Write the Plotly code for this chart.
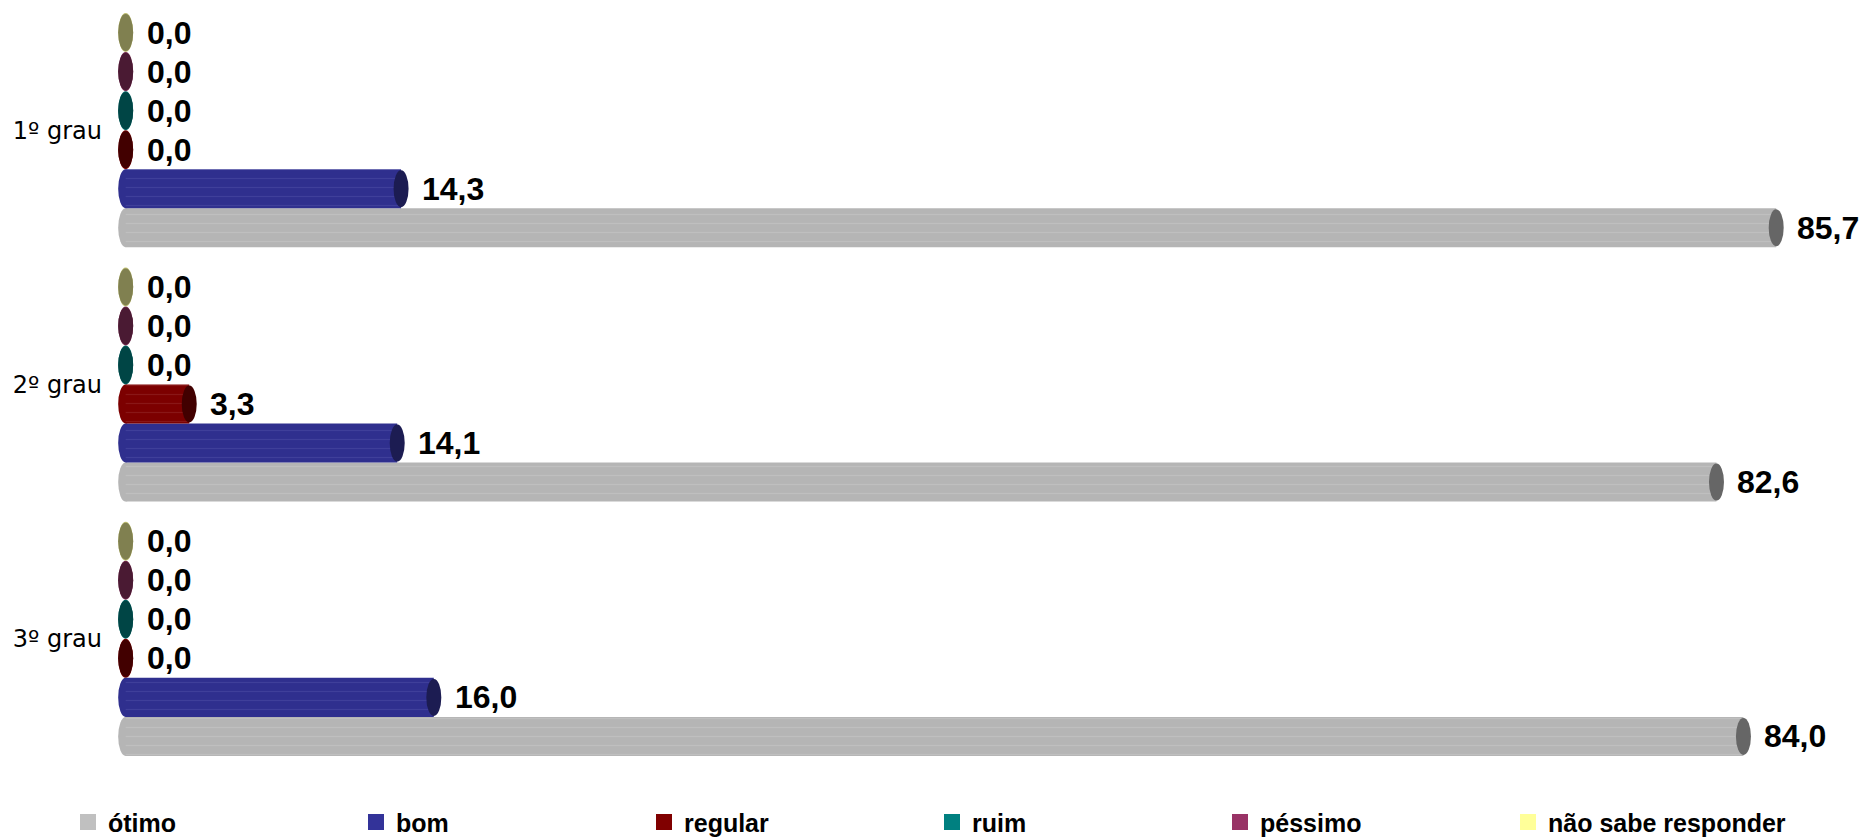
import plotly.graph_objects as go

categories = ["1º grau", "2º grau", "3º grau"]
series_names = ["ótimo", "bom", "regular", "ruim", "péssimo", "não sabe responder"]
otimo = [85.7, 82.6, 84.0]
bom = [14.3, 14.1, 16.0]
regular = [0.0, 3.3, 0.0]
ruim = [0.0, 0.0, 0.0]
pessimo = [0.0, 0.0, 0.0]
nao_sabe = [0.0, 0.0, 0.0]
values = [otimo, bom, regular, ruim, pessimo, nao_sabe]

legend_colors = ["#C0C0C0", "#333399", "#800000", "#008080", "#993366", "#FFFF99"]
body_colors = ["#B5B5B5", "#2F2F8E", "#7C0000", "#006262", "#74284E", "#BFBF73"]
cap_colors = ["#666666", "#1C1C52", "#420000", "#004545", "#4A1A33", "#808050"]
stripe_colors = ["#D0D0D0", "#5A5AB0", "#A04040", "#3A8A8A", "#A05A7A", "#E0E0A0"]

bar_w = 0.1535
n = len(series_names)

fig = go.Figure()
shapes = []
annotations = []

for i, (name, vals) in enumerate(zip(series_names, values)):
    ypos = [k + (n / 2 - 0.5 - i) * bar_w for k in range(len(categories))]
    fig.add_trace(go.Bar(
        x=vals, y=ypos, orientation="h", width=bar_w, name=name,
        marker=dict(color=body_colors[i], line=dict(width=0),
                    pattern=dict(shape="-", fgcolor=stripe_colors[i], fgopacity=0.35,
                                 size=9, solidity=0.12)),
        showlegend=False, hoverinfo="x+name",
    ))
    fig.add_trace(go.Scatter(
        x=[None], y=[None], mode="markers", name=name,
        marker=dict(symbol="square", size=16, color=legend_colors[i]),
        showlegend=True,
    ))
    for v, y in zip(vals, ypos):
        # rounded start of the cylinder
        shapes.append(dict(type="circle", xref="x", yref="y", xsizemode="pixel", xanchor=0,
                           x0=-7.5, x1=7.5, y0=y - bar_w / 2, y1=y + bar_w / 2,
                           fillcolor=body_colors[i], line=dict(width=0), layer="below"))
        # end cap
        shapes.append(dict(type="circle", xref="x", yref="y", xsizemode="pixel", xanchor=v,
                           x0=-7.5, x1=7.5, y0=y - bar_w / 2 + 0.004, y1=y + bar_w / 2 - 0.004,
                           fillcolor=cap_colors[i], line=dict(width=0), layer="above"))
        annotations.append(dict(x=v, y=y, xref="x", yref="y", text=f"{v:.1f}".replace(".", ","),
                                showarrow=False, xanchor="left", yanchor="middle", xshift=19,
                                font=dict(family="Liberation Sans, Arial, sans-serif", size=32,
                                          color="#000000", weight="bold")))

fig.update_layout(
    width=1871, height=840,
    margin=dict(l=117, r=12, t=3, b=74, autoexpand=False),
    plot_bgcolor="#FFFFFF", paper_bgcolor="#FFFFFF",
    barmode="overlay",
    shapes=shapes, annotations=annotations,
    xaxis=dict(range=[-0.45, 90], showgrid=False, zeroline=False, showticklabels=False,
               showline=False, ticks=""),
    yaxis=dict(range=[2.5, -0.5], tickvals=list(range(len(categories))), ticktext=categories,
               showgrid=False, zeroline=False, showline=False, ticks="",
               ticklabelstandoff=14, automargin=False,
               tickfont=dict(family="DejaVu Sans", size=24, color="#000000")),
    legend=dict(orientation="h", x=68 / 1871, xref="container", xanchor="left",
                y=0.021, yref="container", yanchor="middle",
                entrywidth=243, entrywidthmode="pixels",
                font=dict(family="Liberation Sans, Arial, sans-serif", size=25,
                          color="#000000", weight="bold"),
                itemclick=False, tracegroupgap=0),
    showlegend=True,
)

fig.write_html("out.html", config={"displayModeBar": False},
               post_script="document.body.style.margin='0';")
